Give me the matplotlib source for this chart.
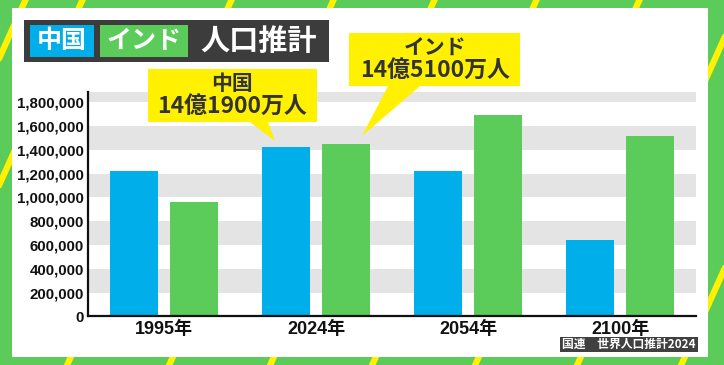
import numpy as np
import matplotlib

matplotlib.use("Agg")
import matplotlib.pyplot as plt
from matplotlib.patches import Rectangle, Polygon
from matplotlib.ticker import FuncFormatter

# data (thousands of people)
years = ["1995年", "2024年", "2054年", "2100年"]
china = [1220000, 1419000, 1220000, 640000]
india = [960000, 1451000, 1690000, 1515000]

callout_china = ["中国", "14億1900万人"]
callout_india = ["インド", "14億5100万人"]
source = "国連　世界人口推計2024"

GREEN = "#5BCB5A"
BLUE = "#00AEEA"
YELLOW = "#FFF100"
DARK = "#3C3C3C"
TXT = "#333333"
JP = ["Noto Sans CJK JP", "DejaVu Sans"]
NUM = ["Liberation Sans", "Noto Sans CJK JP"]

W, H = 724, 365
fig = plt.figure(figsize=(W / 100, H / 100), dpi=100)
fig.patch.set_facecolor(GREEN)

# background: stripes + white panel (pixel coords)
bg = fig.add_axes([0, 0, 1, 1], zorder=0)
bg.set_xlim(0, W)
bg.set_ylim(H, 0)
bg.axis("off")
for x0 in [-137, -80, 69, 171, 272, 374, 477, 579, 683]:
    ys = np.array([H + 10, -10])
    xs = x0 + (361 - ys) * 0.45
    bg.plot(xs, ys, color=YELLOW, lw=4.5, solid_capstyle="round")
bg.add_patch(Rectangle((12, 8), 696, 349, facecolor="white", edgecolor="none", zorder=3))

# chart
ax = fig.add_axes([88 / W, (H - 316.3) / H, 608 / W, 224.3 / H], zorder=1)
ax.set_facecolor("none")
x = np.arange(len(years))
ax.bar(x - 0.2, china, width=0.316, color=BLUE, zorder=2)
ax.bar(x + 0.2, india, width=0.316, color=GREEN, zorder=2)
ax.set_xlim(-0.5, 3.5)
ax.set_ylim(0, 1885000)
for lo in [200000, 600000, 1000000, 1400000, 1800000]:
    ax.axhspan(lo, lo + 200000, color="#E4E4E4", lw=0, zorder=0)
ax.set_yticks(np.arange(0, 1800001, 200000))
ax.yaxis.set_major_formatter(FuncFormatter(lambda v, p: f"{v:,.0f}"))
ax.set_xticks(x)
ax.set_xticklabels(years)
ax.tick_params(axis="both", length=0)
ax.tick_params(axis="y", pad=3)
ax.tick_params(axis="x", pad=3)
for lbl in ax.get_yticklabels():
    lbl.set_fontfamily(NUM)
    lbl.set_fontweight("bold")
    lbl.set_fontsize(10.8)
    lbl.set_color("#111111")
for lbl in ax.get_xticklabels():
    lbl.set_fontfamily(NUM)
    lbl.set_fontweight("bold")
    lbl.set_fontsize(13)
    lbl.set_color("#111111")
for s in ["top", "right"]:
    ax.spines[s].set_visible(False)
for s in ["left", "bottom"]:
    ax.spines[s].set_linewidth(1.6)
    ax.spines[s].set_color("#111111")

# overlay: title, callouts, source
ov = fig.add_axes([0, 0, 1, 1], zorder=3)
ov.set_facecolor("none")
ov.set_xlim(0, W)
ov.set_ylim(H, 0)
ov.axis("off")

ov.add_patch(Rectangle((24, 20), 305, 42, facecolor=DARK, edgecolor="none"))
ov.add_patch(Rectangle((30, 25), 64, 32, facecolor=BLUE, edgecolor="none"))
ov.add_patch(Rectangle((100, 25), 88, 32, facecolor=GREEN, edgecolor="none"))
ov.text(62, 41, "中国", color="white", fontsize=18, fontweight="bold",
        family=JP, ha="center", va="center")
ov.text(144, 41, "インド", color="white", fontsize=18, fontweight="bold",
        family=JP, ha="center", va="center")
ov.text(259, 41, "人口推計", color="white", fontsize=21, fontweight="bold",
        family=JP, ha="center", va="center")

# China callout
ov.add_patch(Polygon([(148, 69), (317, 69), (317, 122), (268, 122), (275, 141),
                      (250, 122), (148, 122)], closed=True,
                     facecolor=YELLOW, edgecolor="none"))
ov.text(232, 84, callout_china[0], color=TXT, fontsize=15, fontweight="bold",
        family=JP, ha="center", va="center")
ov.text(232, 106, callout_china[1], color=TXT, fontsize=16.5, fontweight="bold",
        family=JP, ha="center", va="center")

# India callout
ov.add_patch(Polygon([(349, 33), (520, 33), (520, 86), (420, 86), (362, 136),
                      (388, 86), (349, 86)], closed=True,
                     facecolor=YELLOW, edgecolor="none"))
ov.text(435, 48, callout_india[0], color=TXT, fontsize=15, fontweight="bold",
        family=JP, ha="center", va="center")
ov.text(435, 70, callout_india[1], color=TXT, fontsize=16.5, fontweight="bold",
        family=JP, ha="center", va="center")

# source
ov.add_patch(Rectangle((560, 337), 138, 15, facecolor="#404040", edgecolor="none"))
ov.text(629, 344.5, source, color="white", fontsize=8.5, fontweight="bold",
        family=JP, ha="center", va="center")

fig.savefig("out.png", dpi=100, facecolor=GREEN)
